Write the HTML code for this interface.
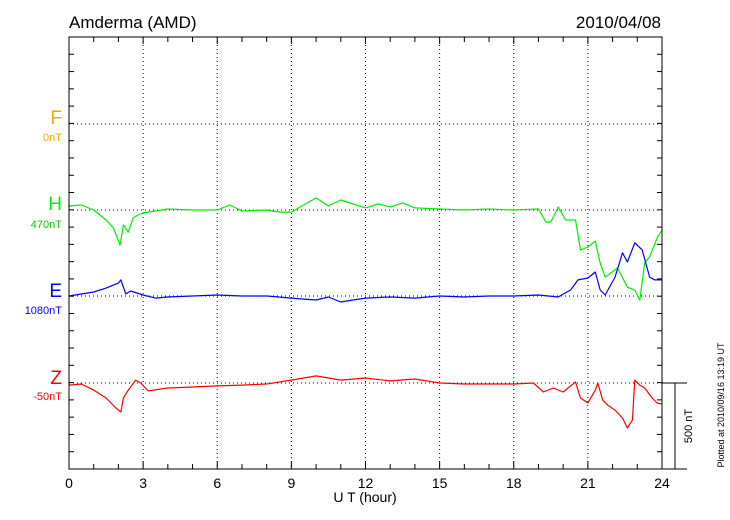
<!DOCTYPE html>
<html><head><meta charset="utf-8"><style>
body{margin:0;background:#fff;}
svg{display:block;font-family:"Liberation Sans",sans-serif;}
</style></head><body>
<svg id="chart" width="730" height="520" viewBox="0 0 730 520">
<text x="69" y="28" font-size="17">Amderma (AMD)</text>
<text x="661" y="28" font-size="17" text-anchor="end">2010/04/08</text>
<g id="grid"></g>
<g id="series"></g>
<g id="axes"></g>
<text x="365" y="502" font-size="14" text-anchor="middle">U T (hour)</text>
<text x="62" y="124" font-size="19" fill="#ffa500" text-anchor="end">F</text>
<text x="62" y="141" font-size="11" fill="#ffa500" text-anchor="end">0nT</text>
<text x="62" y="210" font-size="19" fill="#00ee00" text-anchor="end">H</text>
<text x="62" y="228" font-size="11" fill="#00cc00" text-anchor="end">470nT</text>
<text x="62" y="297" font-size="19" fill="#0000ff" text-anchor="end">E</text>
<text x="62" y="314" font-size="11" fill="#0000ff" text-anchor="end">1080nT</text>
<text x="62" y="384" font-size="19" fill="#ff0000" text-anchor="end">Z</text>
<text x="62" y="400" font-size="11" fill="#ff0000" text-anchor="end">-50nT</text>
<text transform="translate(692,426) rotate(-90)" font-size="11" text-anchor="middle">500 nT</text>
<text transform="translate(724,405) rotate(-90)" font-size="9" text-anchor="middle">Plotted at 2010/09/16 13:19 UT</text>
</svg>
<script>
const xTicks=[0,3,6,9,12,15,18,21,24];
const hHours=[0,0.5,1,1.5,1.8,2.07,2.2,2.4,2.6,2.8,3,3.5,4,5,6,6.5,7,8,8.5,9,9.5,10,10.5,11,11.5,12,12.5,13,13.5,14,15,16,17,18,19,19.3,19.5,19.8,20.1,20.5,20.7,21,21.3,21.5,21.7,22.2,22.6,22.9,23.1,23.3,23.5,23.8,24];
const hVals=[23,29,0,-58,-104,-203,-87,-128,-46,-29,-17,-6,6,0,0,29,-6,0,-12,-12,29,70,23,58,35,12,35,17,41,12,6,0,6,0,6,-70,-70,17,-58,-58,-232,-215,-180,-308,-389,-336,-447,-464,-522,-307,-272,-163,-116];
const eHours=[0,1,1.5,2,2.1,2.3,2.5,3,3.5,4,5,6,7,8,9,10,10.5,11,11.5,12,13,14,15,16,17,18,19,19.8,20.3,20.6,21,21.3,21.5,21.7,22.1,22.4,22.6,22.9,23.2,23.5,23.7,24];
const eVals=[0,23,46,75,93,12,29,6,-12,-6,0,6,0,0,-12,-23,-6,-35,-23,-12,-6,-12,0,-6,0,0,6,-6,35,93,104,139,35,6,110,250,197,308,267,110,93,93];
const zHours=[0,0.5,1,1.5,1.9,2.1,2.2,2.4,2.7,2.9,3.2,4,5,6,7,8,9,10,10.5,11,12,13,14,15,16,17,18,18.8,19.2,19.6,20,20.5,20.7,21,21.3,21.4,21.6,21.8,22.1,22.4,22.6,22.8,22.9,23.1,23.3,23.6,23.8,24];
const zVals=[-12,-6,-41,-87,-145,-168,-87,-41,17,0,-46,-29,-23,-17,-12,-6,17,41,29,17,29,12,23,0,-6,-6,-6,0,-52,-29,-52,6,-87,-116,-41,0,-99,-128,-157,-203,-261,-215,17,-12,-29,-87,-116,-122];
const bases={H:210,E:296,Z:383};
const X0=69,X1=662,Y0=37,Y1=469,NT_PER_PX=500/86.3;
const xs=h=>X0+h/24*(X1-X0);
const ys=(base,v)=>base-v/NT_PER_PX;
const NS='http://www.w3.org/2000/svg';
function mk(tag,attrs,parent){const e=document.createElementNS(NS,tag);for(const k in attrs)e.setAttribute(k,attrs[k]);parent.appendChild(e);return e;}
const grid=document.getElementById('grid'),axes=document.getElementById('axes'),ser=document.getElementById('series');
// dotted grid
for(const t of xTicks){if(t===0||t===24)continue;
 const l=mk('line',{x1:xs(t),x2:xs(t),y1:Y0,y2:Y1,stroke:'#000','stroke-width':1,'stroke-dasharray':'1,3'},grid);
 
 }
for(const b of [124,210,296,383]){
 const l=mk('line',{x1:X0,x2:X1,y1:b,y2:b,stroke:'#000','stroke-width':1,'stroke-dasharray':'1,3'},grid);
 
 }
// frame
const fr=mk('rect',{x:X0,y:Y0,width:X1-X0,height:Y1-Y0,fill:'none',stroke:'#000','stroke-width':1},axes);


mk('line',{x1:X1,x2:687,y1:Y1,y2:Y1,stroke:'#000'},axes);
mk('line',{x1:X1,x2:687,y1:383,y2:383,stroke:'#000'},axes);
const sb=mk('line',{x1:675,x2:675,y1:383,y2:Y1,stroke:'#000'},axes);


for(let h=0;h<=24;h++){const len=h%3===0?7:5;
 mk('line',{x1:xs(h),x2:xs(h),y1:Y0,y2:Y0+len,stroke:'#000'},axes);
 mk('line',{x1:xs(h),x2:xs(h),y1:Y1,y2:Y1-len,stroke:'#000'},axes);}
for(let i=0;i<=25;i++){const y=Y0+i*(Y1-Y0)/25;
 mk('line',{x1:X0,x2:X0+5,y1:y,y2:y,stroke:'#000'},axes);
 mk('line',{x1:X1,x2:X1-5,y1:y,y2:y,stroke:'#000'},axes);}
for(const t of xTicks){const tx=mk('text',{x:xs(t),y:488,'font-size':14,'text-anchor':'middle'},axes);tx.textContent=t;
 
 }
function draw(hours,vals,base,color,name){
 const pts=hours.map((h,i)=>xs(h).toFixed(1)+','+ys(base,vals[i]).toFixed(1)).join(' ');
 const p=mk('polyline',{points:pts,fill:'none',stroke:color,'stroke-width':1.2,'stroke-linejoin':'round'},ser);
 
 }
draw(hHours,hVals,bases.H,'#00ee00','h-series-line');
draw(eHours,eVals,bases.E,'#0000ff','e-series-line');
draw(zHours,zVals,bases.Z,'#ff0000','z-series-line');
</script>
</body></html>
